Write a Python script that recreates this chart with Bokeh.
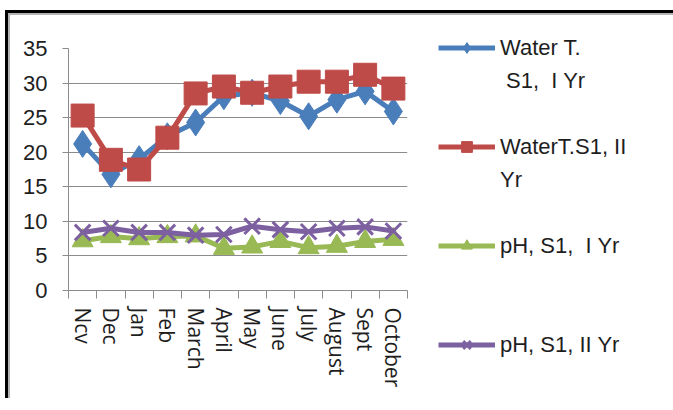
from bokeh.plotting import figure
from bokeh.layouts import column, row
from bokeh.models import (ColumnDataSource, Range1d, FixedTicker, Legend,
                          LegendItem, Spacer)
from bokeh.embed import file_html
from bokeh.resources import INLINE

# Monthly readings at station S1 over two years
months = ["Ncv", "Dec", "Jan", "Feb", "March", "April", "May", "June",
          "July", "August", "Sept", "October"]
water_t_yr1 = [21.2, 16.8, 19.0, 22.3, 24.3, 28.1, 28.6, 27.4, 25.2, 27.6, 28.8, 25.9]
water_t_yr2 = [25.3, 18.9, 17.5, 22.1, 28.5, 29.5, 28.6, 29.5, 30.2, 30.2, 31.2, 29.2]
ph_yr1 = [7.2, 7.8, 7.5, 7.8, 7.9, 6.1, 6.3, 7.1, 6.2, 6.4, 7.1, 7.4]
ph_yr2 = [8.4, 9.0, 8.4, 8.4, 8.0, 8.1, 9.3, 8.8, 8.5, 9.0, 9.2, 8.6]
y_ticks = [0, 5, 10, 15, 20, 25, 30, 35]

# legend texts, wrapped over lines as in the legend box
label_1 = ["Water T.", " S1,  I Yr"]
label_2 = ["WaterT.S1, II", "Yr"]
label_3 = ["pH, S1,  I Yr"]
label_4 = ["pH, S1, II Yr"]

BLUE, RED, GREEN, PURPLE = "#4A7EBB", "#BE4B48", "#98B954", "#7D60A0"
GRID = "#8C8C8C"
TEXT = "#1e1e1e"
NARROW = "Liberation Sans Narrow, Arial Narrow, sans-serif"

xs = [i + 0.5 for i in range(len(months))]
src = ColumnDataSource(dict(x=xs, t1=water_t_yr1, t2=water_t_yr2,
                            p1=ph_yr1, p2=ph_yr2))

p = figure(frame_width=339, frame_height=242, output_backend="svg",
           toolbar_location=None,
           x_range=Range1d(0, len(months)), y_range=Range1d(0, 35),
           min_border_left=58, min_border_right=240, min_border_top=33,
           min_border_bottom=108, background_fill_color="white",
           border_fill_color="white")
p.outline_line_color = None

# axes
p.yaxis.ticker = FixedTicker(ticks=y_ticks)
p.yaxis.axis_line_color = GRID
p.yaxis.major_tick_line_color = GRID
p.yaxis.major_tick_out = 6
p.yaxis.major_tick_in = 0
p.yaxis.minor_tick_line_color = None
p.yaxis.major_label_standoff = 15
p.yaxis.major_label_text_font = NARROW
p.yaxis.major_label_text_font_size = "22px"
p.yaxis.major_label_text_color = TEXT

p.xaxis.ticker = FixedTicker(ticks=xs, minor_ticks=list(range(len(months) + 1)))
p.xaxis.major_label_overrides = {x: m for x, m in zip(xs, months)}
p.xaxis.major_label_orientation = "vertical"
p.xaxis.axis_line_color = GRID
p.xaxis.major_tick_line_color = None
p.xaxis.major_tick_out = 0
p.xaxis.major_tick_in = 0
p.xaxis.minor_tick_line_color = GRID
p.xaxis.minor_tick_out = 8
p.xaxis.minor_tick_in = 0
p.xaxis.major_label_standoff = 9
p.xaxis.major_label_text_font = "Open Sans"
p.xaxis.major_label_text_font_size = "21px"
p.xaxis.major_label_text_color = TEXT

p.xgrid.grid_line_color = None
p.ygrid.ticker = FixedTicker(ticks=y_ticks)
p.ygrid.grid_line_color = GRID
p.ygrid.grid_line_width = 1

# series
l1 = p.line("x", "t1", source=src, line_color=BLUE, line_width=5)
m1 = p.scatter("x", "t1", source=src, marker="diamond", size=27,
               fill_color=BLUE, line_color=BLUE)
l2 = p.line("x", "t2", source=src, line_color=RED, line_width=5)
m2 = p.scatter("x", "t2", source=src, marker="square", size=23,
               fill_color=RED, line_color=RED)
l3 = p.line("x", "p1", source=src, line_color=GREEN, line_width=5)
m3 = p.scatter("x", "p1", source=src, marker="triangle", size=21,
               fill_color=GREEN, line_color=GREEN)
l4 = p.line("x", "p2", source=src, line_color=PURPLE, line_width=5)
m4 = p.scatter("x", "p2", source=src, marker="x", size=22,
               line_color=PURPLE, line_width=3)

# rows of the legend that carry only wrapped text (no key glyph)
blank = p.line(x=[], y=[], line_alpha=0)


def rows(lines, renderers, total):
    out = [LegendItem(label=lines[0], renderers=renderers)]
    out += [LegendItem(label=t, renderers=[blank]) for t in lines[1:]]
    out += [LegendItem(label=" ", renderers=[blank])
            for _ in range(total - len(lines))]
    return out


items = (rows(label_1, [l1, m1], 3) + rows(label_2, [l2, m2], 3)
         + rows(label_3, [l3, m3], 3) + rows(label_4, [l4, m4], 1))

legend = Legend(items=items, location=(31, -68), orientation="vertical")
legend.padding = 0
legend.margin = 0
legend.spacing = 6
legend.glyph_width = 57
legend.glyph_height = 27
legend.label_height = 27
legend.label_standoff = 5
legend.border_line_color = None
legend.background_fill_alpha = 0
legend.label_text_font = NARROW
legend.label_text_font_size = "22px"
legend.label_text_color = TEXT
p.add_layout(legend, "right")


# frame around the chart: a dark edge with a soft grey inner shade
def bar(w, h, colour=None):
    s = Spacer(width=w, height=h)
    if colour:
        s.styles = {"background-color": colour}
    return s


page = column(
    bar(673, 10),
    row(bar(5, 3), bar(668, 3, "#000000")),
    row(bar(5, 2), bar(3, 2, "#000000"), bar(665, 2, "#B4B4B4")),
    row(bar(5, 383), bar(3, 383, "#000000"), bar(2, 383, "#B4B4B4"), p),
)

open("out.html", "w").write(file_html(page, INLINE))
